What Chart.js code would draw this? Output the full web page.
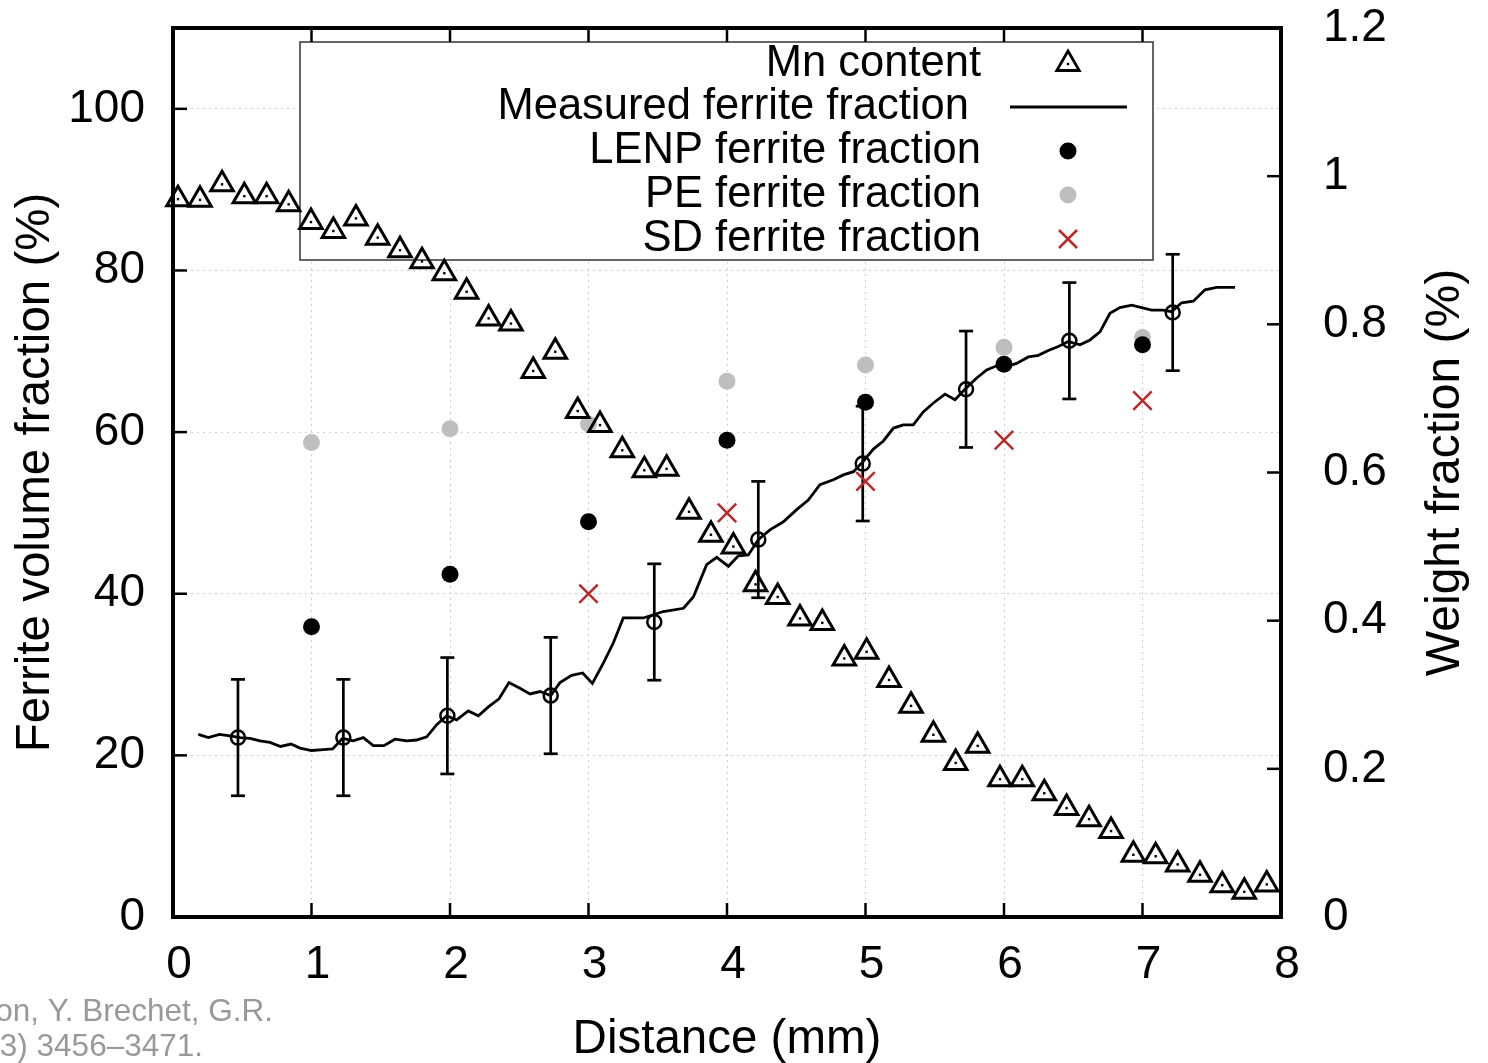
<!DOCTYPE html>
<html>
<head>
<meta charset="utf-8">
<title>Ferrite fraction vs distance</title>
<script src="https://cdn.jsdelivr.net/npm/chart.js@4.4.0/dist/chart.umd.min.js"></script>
<style>
    html, body { margin: 0; padding: 0; background: #fff; }
    canvas { display: block; }
</style>
</head>
<body>
<canvas id="chart" width="1488" height="1063"></canvas>
<script>
// Mn content (weight fraction, right axis)
const mnDistance = [0.036, 0.195, 0.354, 0.515, 0.676, 0.835, 0.996, 1.158, 1.321, 1.478,
    1.639, 1.798, 1.959, 2.120, 2.279, 2.440, 2.601, 2.760, 2.922, 3.083,
    3.244, 3.403, 3.564, 3.726, 3.884, 4.046, 4.206, 4.366, 4.527, 4.688,
    4.847, 5.008, 5.170, 5.329, 5.490, 5.651, 5.810, 5.971, 6.132, 6.291,
    6.452, 6.614, 6.773, 6.934, 7.095, 7.254, 7.415, 7.576, 7.735, 7.897];
const mnContent = [0.969, 0.968, 0.989, 0.973, 0.973, 0.962, 0.938, 0.926, 0.943, 0.917,
    0.900, 0.885, 0.869, 0.844, 0.808, 0.801, 0.737, 0.763, 0.683, 0.664,
    0.630, 0.603, 0.605, 0.547, 0.516, 0.500, 0.449, 0.432, 0.403, 0.397,
    0.349, 0.358, 0.320, 0.285, 0.246, 0.208, 0.231, 0.186, 0.186, 0.167,
    0.147, 0.132, 0.116, 0.084, 0.082, 0.071, 0.057, 0.043, 0.034, 0.044];

// measured ferrite fraction profile (left axis)
const measuredDistance = [0.183, 0.255, 0.335, 0.412, 0.484, 0.556, 0.628, 0.700, 0.777, 0.852,
    0.917, 1.001, 1.085, 1.153, 1.225, 1.302, 1.374, 1.446, 1.523, 1.603,
    1.687, 1.759, 1.832, 1.904, 1.976, 2.048, 2.132, 2.205, 2.277, 2.354,
    2.426, 2.505, 2.578, 2.650, 2.727, 2.794, 2.878, 2.958, 3.028, 3.107,
    3.179, 3.251, 3.324, 3.396, 3.540, 3.686, 3.757, 3.853, 3.926, 4.010,
    4.082, 4.154, 4.226, 4.310, 4.407, 4.503, 4.587, 4.671, 4.768, 4.840,
    4.913, 4.985, 5.057, 5.129, 5.202, 5.273, 5.345, 5.417, 5.490, 5.574,
    5.646, 5.718, 5.803, 5.875, 5.947, 6.019, 6.091, 6.176, 6.248, 6.320,
    6.392, 6.465, 6.549, 6.621, 6.693, 6.765, 6.837, 6.922, 6.994, 7.066,
    7.150, 7.210, 7.282, 7.367, 7.451, 7.536, 7.668];
const measuredFraction = [22.6, 22.2, 22.6, 22.4, 22.2, 22.1, 21.8, 21.6, 21.1, 21.4,
    20.9, 20.6, 20.7, 20.8, 22.1, 21.8, 22.2, 21.2, 21.2, 22.0,
    21.8, 21.9, 22.3, 23.8, 24.9, 24.4, 25.5, 24.9, 26.0, 27.0,
    29.0, 28.3, 27.6, 27.9, 27.4, 29.0, 29.9, 30.2, 28.9, 31.4,
    33.9, 37.0, 37.0, 37.0, 37.8, 38.2, 39.6, 43.6, 44.5, 43.4,
    44.7, 44.8, 46.7, 47.9, 48.9, 50.4, 51.6, 53.5, 54.1, 54.7,
    55.1, 56.4, 57.9, 58.9, 60.5, 60.9, 60.9, 62.5, 63.6, 64.7,
    64.0, 65.3, 66.7, 67.7, 68.2, 68.1, 68.5, 69.3, 69.5, 70.1,
    70.6, 71.2, 70.8, 71.4, 72.4, 74.7, 75.4, 75.7, 75.4, 75.1,
    75.1, 74.9, 76.0, 76.2, 77.6, 77.9, 77.9];

// averaged measurements with error bars
const avgDistance = [0.469, 1.230, 1.981, 2.727, 3.475, 4.226, 4.980, 5.726, 6.472, 7.218];
const avgFraction = [22.2, 22.2, 24.9, 27.4, 36.5, 46.7, 56.1, 65.3, 71.3, 74.8];
const avgError = [7.2, 7.2, 7.2, 7.2, 7.2, 7.2, 7.1, 7.2, 7.2, 7.2];

// model predictions
const modelDistance = [1, 2, 3, 4, 5, 6, 7];
const lenpFraction = [35.9, 42.4, 48.9, 59.0, 63.7, 68.4, 70.8];
const peFraction = [58.7, 60.4, 61.0, 66.3, 68.3, 70.5, 71.7];
const sdFraction = [null, null, 40.0, 50.0, 53.9, 59.0, 63.9];

const xTicks = [0, 1, 2, 3, 4, 5, 6, 7, 8];
const leftTicks = [0, 20, 40, 60, 80, 100];
const rightTicks = [0, 0.2, 0.4, 0.6, 0.8, 1, 1.2];

const legendLabels = ['Mn content', 'Measured ferrite fraction ', 'LENP ferrite fraction',
    'PE ferrite fraction', 'SD ferrite fraction'];

const FONT = "'Liberation Sans', Arial, sans-serif";
const RED = '#b82a2a';
const GREY = '#bebebe';

function pts(xs, ys) {
    return xs.map((x, i) => ({ x: x, y: ys[i] }));
}

function line(ctx, x1, y1, x2, y2) {
    ctx.beginPath();
    ctx.moveTo(x1, y1);
    ctx.lineTo(x2, y2);
    ctx.stroke();
}

function triangle(ctx, x, y, r) {
    ctx.beginPath();
    ctx.moveTo(x, y - r);
    ctx.lineTo(x + r * Math.sin(Math.PI * 2 / 3), y - r * Math.cos(Math.PI * 2 / 3));
    ctx.lineTo(x + r * Math.sin(Math.PI * 4 / 3), y - r * Math.cos(Math.PI * 4 / 3));
    ctx.closePath();
    ctx.stroke();
}

// keep the plot frame where the layout puts it, no extra room for edge labels
function noPad(s) {
    s.paddingTop = 0;
    s.paddingBottom = 0;
    s.paddingLeft = 0;
    s.paddingRight = 0;
}

const decorations = {
    id: 'decorations',
    beforeDatasetsDraw(chart) {
        const { ctx, chartArea: a, scales } = chart;
        ctx.save();

        // legend box (opaque over the grid)
        ctx.fillStyle = '#fff';
        ctx.fillRect(300, 42, 853, 218);
        ctx.strokeStyle = '#333';
        ctx.lineWidth = 1.5;
        ctx.strokeRect(300, 42, 853, 218);

        // inward ticks
        const tl = 14;
        ctx.strokeStyle = '#000';
        ctx.lineWidth = 2.5;
        xTicks.slice(1, -1).forEach(v => {
            const px = scales.x.getPixelForValue(v);
            line(ctx, px, a.bottom, px, a.bottom - tl);
            line(ctx, px, a.top, px, a.top + tl);
        });
        leftTicks.forEach(v => {
            const py = scales.y.getPixelForValue(v);
            line(ctx, a.left, py, a.left + tl, py);
        });
        rightTicks.forEach(v => {
            const py = scales.y1.getPixelForValue(v);
            line(ctx, a.right, py, a.right - tl, py);
        });

        // frame
        ctx.lineWidth = 4;
        ctx.strokeRect(a.left, a.top, a.right - a.left, a.bottom - a.top);

        // error bars
        ctx.lineWidth = 2.7;
        avgDistance.forEach((d, i) => {
            const px = scales.x.getPixelForValue(d);
            const top = scales.y.getPixelForValue(avgFraction[i] + avgError[i]);
            const bot = scales.y.getPixelForValue(avgFraction[i] - avgError[i]);
            line(ctx, px, top, px, bot);
            line(ctx, px - 7, top, px + 7, top);
            line(ctx, px - 7, bot, px + 7, bot);
        });
        ctx.restore();
    },
    afterDatasetsDraw(chart) {
        const ctx = chart.ctx;
        ctx.save();
        // centre dot of the triangle markers
        ctx.fillStyle = '#000';
        chart.getDatasetMeta(0).data.forEach(p => {
            ctx.fillRect(p.x - 1.2, p.y - 1.2, 2.4, 2.4);
        });
        ctx.restore();
    },
    afterDraw(chart) {
        const ctx = chart.ctx;
        ctx.save();

        // legend
        const rows = [64, 107, 151, 195, 239];
        const sx = 1068;
        ctx.font = '43.5px ' + FONT;
        ctx.fillStyle = '#000';
        ctx.textAlign = 'right';
        ctx.textBaseline = 'middle';
        legendLabels.forEach((t, i) => ctx.fillText(t, 981, rows[i]));

        ctx.strokeStyle = '#000';
        ctx.lineWidth = 2.8;
        triangle(ctx, sx, rows[0], 13);
        ctx.fillRect(sx - 1.2, rows[0] - 1.2, 2.4, 2.4);
        line(ctx, 1010, rows[1], 1127, rows[1]);
        ctx.beginPath();
        ctx.arc(sx, rows[2], 8.5, 0, Math.PI * 2);
        ctx.fill();
        ctx.fillStyle = GREY;
        ctx.beginPath();
        ctx.arc(sx, rows[3], 8.5, 0, Math.PI * 2);
        ctx.fill();
        ctx.strokeStyle = RED;
        ctx.lineWidth = 2.5;
        const c = 9;
        line(ctx, sx - c, rows[4] - c, sx + c, rows[4] + c);
        line(ctx, sx - c, rows[4] + c, sx + c, rows[4] - c);

        // right axis title, reading bottom to top
        ctx.fillStyle = '#000';
        ctx.font = '48px ' + FONT;
        ctx.textAlign = 'center';
        ctx.translate(1446, (chart.chartArea.top + chart.chartArea.bottom) / 2);
        ctx.rotate(-Math.PI / 2);
        ctx.fillText('Weight fraction (%)', 0, 0);
        ctx.setTransform(1, 0, 0, 1, 0, 0);

        // source note, cut at the left edge
        ctx.fillStyle = '#999';
        ctx.font = '31.5px ' + FONT;
        ctx.textAlign = 'right';
        ctx.textBaseline = 'alphabetic';
        ctx.fillText('on, Y. Brechet, G.R.', 273, 1021);
        ctx.fillText('3) 3456\u20133471.', 203, 1056);
        ctx.restore();
    }
};

const tickFont = { family: FONT, size: 46 };
const gridStyle = { color: '#cfcfcf', lineWidth: 1, drawTicks: false };

const ctx = document.getElementById('chart');

new Chart(ctx, {
    type: 'scatter',
    data: {
        datasets: [
            {
                label: 'Mn content',
                data: pts(mnDistance, mnContent),
                yAxisID: 'y1',
                pointStyle: 'triangle',
                pointRadius: 13,
                pointBorderWidth: 3,
                pointBorderColor: '#000',
                pointBackgroundColor: 'rgba(0,0,0,0)',
                clip: false
            },
            {
                label: 'Measured ferrite fraction',
                data: pts(measuredDistance, measuredFraction),
                yAxisID: 'y',
                showLine: true,
                borderColor: '#000',
                borderWidth: 2.8,
                pointRadius: 0,
                tension: 0,
                fill: false
            },
            {
                label: 'Averaged',
                data: pts(avgDistance, avgFraction),
                yAxisID: 'y',
                pointRadius: 7,
                pointBorderWidth: 2.5,
                pointBorderColor: '#000',
                pointBackgroundColor: 'rgba(0,0,0,0)'
            },
            {
                label: 'LENP ferrite fraction',
                data: pts(modelDistance, lenpFraction),
                yAxisID: 'y',
                pointRadius: 8.5,
                pointBorderWidth: 0,
                pointBackgroundColor: '#000'
            },
            {
                label: 'PE ferrite fraction',
                data: pts(modelDistance, peFraction),
                yAxisID: 'y',
                pointRadius: 8.5,
                pointBorderWidth: 0,
                pointBackgroundColor: GREY
            },
            {
                label: 'SD ferrite fraction',
                data: pts(modelDistance, sdFraction),
                yAxisID: 'y',
                pointStyle: 'crossRot',
                pointRadius: 13,
                pointBorderWidth: 2.5,
                pointBorderColor: RED
            }
        ]
    },
    options: {
        responsive: false,
        animation: false,
        devicePixelRatio: 1,
        events: [],
        layout: { padding: { top: 28, left: 0, right: 0, bottom: 0 } },
        plugins: {
            legend: { display: false },
            tooltip: { enabled: false }
        },
        scales: {
            x: {
                type: 'linear',
                position: 'bottom',
                min: 0,
                max: 8,
                afterBuildTicks: s => { s.ticks = xTicks.map(v => ({ value: v })); },
                afterFit: s => { s.height = 146; noPad(s); },
                grid: gridStyle,
                border: { display: false, dash: [2, 4] },
                ticks: { font: tickFont, color: '#000', padding: 21, labelOffset: 6, maxRotation: 0, callback: v => String(v) },
                title: {
                    display: true,
                    text: 'Distance (mm)',
                    font: { family: FONT, size: 47.5, lineHeight: 1.0 },
                    color: '#000',
                    padding: { top: 0, bottom: -1 }
                }
            },
            y: {
                type: 'linear',
                position: 'left',
                min: 0,
                max: 110,
                afterBuildTicks: s => { s.ticks = leftTicks.map(v => ({ value: v })); },
                afterFit: s => { s.width = 173; noPad(s); },
                grid: gridStyle,
                border: { display: false, dash: [2, 4] },
                ticks: { font: tickFont, color: '#000', padding: 28, callback: v => String(v) },
                title: {
                    display: true,
                    text: 'Ferrite volume fraction (%)',
                    font: { family: FONT, size: 47.5, lineHeight: 1.2 },
                    color: '#000',
                    padding: { top: 7, bottom: 0 }
                }
            },
            y1: {
                type: 'linear',
                position: 'right',
                min: 0,
                max: 1.2,
                afterBuildTicks: s => { s.ticks = rightTicks.map(v => ({ value: v })); },
                afterFit: s => { s.width = 207; noPad(s); },
                grid: { display: false, drawTicks: false },
                border: { display: false },
                ticks: { font: tickFont, color: '#000', padding: 42, callback: v => String(v) }
            }
        }
    },
    plugins: [decorations]
});
</script>
</body>
</html>
